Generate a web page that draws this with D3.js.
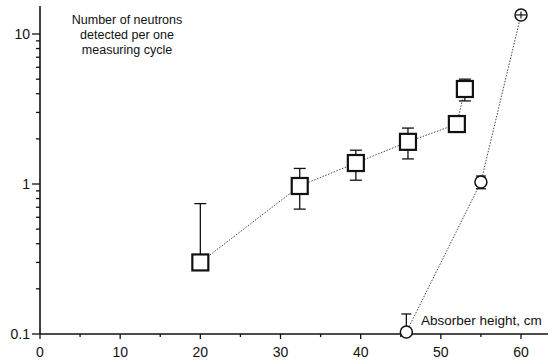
<!DOCTYPE html>
<html>
<head>
<meta charset="utf-8">
<script src="https://cdn.jsdelivr.net/npm/d3@7"></script>
<style>
  body { margin: 0; background: #fff; }
  svg { display: block; font-family: "Liberation Sans", Arial, sans-serif; }
</style>
</head>
<body>
<svg id="chart" width="552" height="361"></svg>
<script>
// squares: measured series
var sq_x   = [20,   32.4, 39.4, 45.9, 52.0, 53.0];
var sq_y   = [0.30, 0.97, 1.38, 1.91, 2.51, 4.3];
var sq_hi  = [0.74, 1.27, 1.68, 2.36, 2.51, 5.0];
var sq_lo  = [0.30, 0.68, 1.06, 1.47, 2.51, 3.58];

// circles: second series
var ci_x  = [45.7,  55.0, 60.0];
var ci_y  = [0.103, 1.03, 13.4];
var ci_hi = [0.136, 1.13, 14.1];
var ci_lo = [0.103, 0.93, 12.7];

var x_ticks = [0, 10, 20, 30, 40, 50, 60];
var x_minor = [5, 15, 25, 35, 45, 55];
var y_ticks = [0.1, 1, 10];
var y_labels = ["0.1", "1", "10"];
var title_lines = ["Number of neutrons", "detected per one", "measuring cycle"];
var x_title = "Absorber height, cm";

var svg = d3.select('#chart');

var x = d3.scaleLinear().domain([0, 60]).range([40, 521]);
var y = d3.scaleLog().domain([0.1, 10]).range([334, 34]);

var y_minor = [];
[0.1, 1].forEach(function(base){
    for (let k = 2; k <= 9; k++) y_minor.push(base * k);
});

// axes
var ax = svg.append('g').attr('class', 'axes').attr('stroke', '#111');
ax.append('line')
    .attr('x1', 40).attr('x2', 40)
    .attr('y1', 6).attr('y2', 334)
    .attr('stroke-width', 1.6);
ax.append('line')
    .attr('x1', 40).attr('x2', 548)
    .attr('y1', 334).attr('y2', 334)
    .attr('stroke-width', 1.6);

ax.selectAll('.ymaj').data(y_ticks).enter().append('line')
    .attr('x1', 32).attr('x2', 40)
    .attr('y1', d => y(d)).attr('y2', d => y(d))
    .attr('stroke-width', 1.3);
ax.selectAll('.ymin').data(y_minor).enter().append('line')
    .attr('x1', 36).attr('x2', 40)
    .attr('y1', d => y(d)).attr('y2', d => y(d))
    .attr('stroke-width', 1.3);
ax.selectAll('.xmaj').data(x_ticks).enter().append('line')
    .attr('x1', d => x(d)).attr('x2', d => x(d))
    .attr('y1', 334).attr('y2', 339)
    .attr('stroke-width', 1.3);
ax.selectAll('.xmin').data(x_minor).enter().append('line')
    .attr('x1', d => x(d)).attr('x2', d => x(d))
    .attr('y1', 334).attr('y2', 337)
    .attr('stroke-width', 1.3);

svg.append('g').selectAll('text').data(y_ticks).enter().append('text')
    .attr('x', 30).attr('y', d => y(d))
    .attr('dy', '0.36em')
    .attr('text-anchor', 'end')
    .attr('font-size', 14)
    .attr('fill', '#111')
    .text((d, i) => y_labels[i]);

svg.append('g').selectAll('text').data(x_ticks).enter().append('text')
    .attr('x', d => x(d)).attr('y', 357)
    .attr('text-anchor', 'middle')
    .attr('font-size', 14)
    .attr('fill', '#111')
    .text(d => d);

// dotted connecting lines
var line = d3.line().x(d => x(d[0])).y(d => y(d[1]));
svg.append('path')
    .datum(sq_x.map((v, i) => [v, sq_y[i]]))
    .attr('d', line)
    .attr('fill', 'none').attr('stroke', '#444')
    .attr('stroke-width', 1).attr('stroke-dasharray', '1.5,1.5');
svg.append('path')
    .datum(ci_x.map((v, i) => [v, ci_y[i]]))
    .attr('d', line)
    .attr('fill', 'none').attr('stroke', '#444')
    .attr('stroke-width', 1).attr('stroke-dasharray', '1.5,1.5');

// error bars
function errbars(xs, ys, hi, lo, cap){
    var g = svg.append('g').attr('stroke', '#111').attr('stroke-width', 1.3);
    xs.forEach(function(xv, i){
        [hi[i], lo[i]].forEach(function(e){
            if (Math.abs(e - ys[i]) < 1e-9) return;
            g.append('line')
                .attr('x1', x(xv)).attr('x2', x(xv))
                .attr('y1', y(ys[i])).attr('y2', y(e));
            g.append('line')
                .attr('x1', x(xv) - cap).attr('x2', x(xv) + cap)
                .attr('y1', y(e)).attr('y2', y(e));
        });
    });
}
errbars(sq_x, sq_y, sq_hi, sq_lo, 6);
errbars(ci_x, ci_y, ci_hi, ci_lo, 5);

// squares
svg.append('g').selectAll('rect').data(sq_x).enter().append('rect')
    .attr('x', d => x(d) - 8)
    .attr('y', (d, i) => y(sq_y[i]) - 8)
    .attr('width', 16).attr('height', 16)
    .attr('fill', '#fff').attr('stroke', '#111')
    .attr('stroke-width', 2.2);

// circles
svg.append('g').selectAll('circle').data(ci_x).enter().append('circle')
    .attr('cx', d => x(d))
    .attr('cy', (d, i) => y(ci_y[i]))
    .attr('r', 6)
    .attr('fill', '#fff').attr('stroke', '#111')
    .attr('stroke-width', 1.5);
// the top circle's error bar is drawn through it
var last = ci_x.length - 1;
svg.append('line')
    .attr('x1', x(ci_x[last]) - 5).attr('x2', x(ci_x[last]) + 5)
    .attr('y1', y(ci_y[last])).attr('y2', y(ci_y[last]))
    .attr('stroke', '#111').attr('stroke-width', 1.2);
svg.append('line')
    .attr('x1', x(ci_x[last])).attr('x2', x(ci_x[last]))
    .attr('y1', y(ci_hi[last])).attr('y2', y(ci_lo[last]))
    .attr('stroke', '#111').attr('stroke-width', 1.2);

// labels
svg.append('text')
    .attr('x', 127).attr('y', 24)
    .attr('text-anchor', 'middle')
    .attr('font-size', 12.5)
    .attr('fill', '#111')
    .selectAll('tspan').data(title_lines).enter().append('tspan')
    .attr('x', 127).attr('dy', (d, i) => i ? 15 : 0)
    .text(d => d);

svg.append('text')
    .attr('x', 421).attr('y', 325)
    .attr('font-size', 13.5)
    .attr('fill', '#111')
    .text(x_title);
</script>
</body>
</html>
